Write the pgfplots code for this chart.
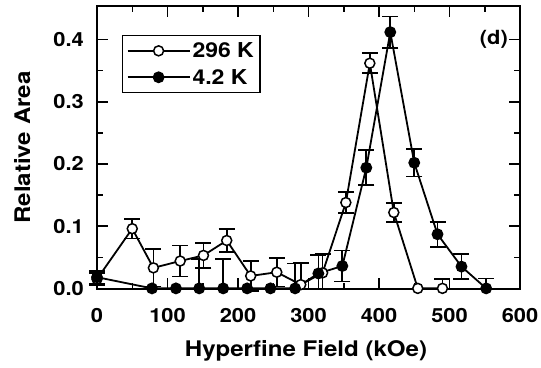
\documentclass[border=0pt]{standalone}
\usepackage{fontspec}
\setmainfont[FakeStretch=1.12]{TeX Gyre Heros}
\usepackage{pgfplots}
\pgfplotsset{compat=1.18}
\usepackage{pgfplotstable}

\pgfplotstableread{
x y ep em
0 0.015 0.010 0.010
50 0.096 0.016 0.016
80 0.033 0.030 0.030
118 0.044 0.025 0.025
151 0.053 0.020 0.020
184 0.077 0.018 0.018
218 0.020 0.024 0.024
255 0.026 0.023 0.023
289 0.006 0.035 0.006
320 0.025 0.030 0.025
353 0.138 0.017 0.017
387 0.362 0.016 0.016
421 0.122 0.015 0.015
455 0.000 0.000 0.000
490 0.000 0.015 0.000
}\warm

\pgfplotstableread{
x y ep em
0 0.018 0.010 0.010
78 0.000 0.000 0.000
112 0.000 0.000 0.000
145 0.000 0.047 0.000
179 0.000 0.047 0.000
213 0.000 0.000 0.000
246 0.000 0.000 0.000
281 0.000 0.040 0.000
314 0.024 0.030 0.024
348 0.036 0.025 0.025
382 0.194 0.028 0.028
416 0.412 0.025 0.025
450 0.202 0.022 0.022
483 0.087 0.020 0.020
517 0.035 0.020 0.020
552 0.000 0.016 0.000
}\cold

\begin{document}
\begin{tikzpicture}
\begin{axis}[
  scale only axis,
  width=423pt, height=283pt,
  xmin=0, xmax=600, ymin=-0.001, ymax=0.454,
  xtick={0,100,...,600},
  ytick={0,0.1,0.2,0.3,0.4},
  minor x tick num=1, minor y tick num=1,
  tick align=inside,
  major tick length=11pt, minor tick length=6pt,
  every tick/.style={black, line width=1.5pt},
  axis line style={line width=1.7pt},
  clip=false,
  /pgf/number format/assume math mode=true,
  yticklabel style={/pgf/number format/fixed, /pgf/number format/fixed zerofill, /pgf/number format/precision=1, anchor=east, inner sep=0pt, xshift=-13pt},
  xticklabel style={anchor=base, inner sep=0pt, yshift=-33pt},
  tick label style={font=\fontsize{19.5}{22}\selectfont\bfseries},
  xlabel={Hyperfine Field (kOe)},
  ylabel={Relative Area},
  every axis x label/.style={at={(axis description cs:0.494,-0.239)}, anchor=base, font=\fontsize{21.5}{24}\selectfont\bfseries},
  every axis y label/.style={at={(axis description cs:-0.177,0.5)}, anchor=center, rotate=90, font=\fontsize{21.5}{24}\selectfont\bfseries},
  legend style={at={(axis description cs:0.059,0.898)}, anchor=north west, draw=black, line width=1.5pt,
    font=\fontsize{20.5}{23}\selectfont\bfseries, inner xsep=4pt, inner ysep=5pt, row sep=6pt,
    legend cell align=left},
  legend image code/.code={\draw[mark repeat=2,mark phase=2,#1] plot coordinates {(0pt,0pt) (31pt,0pt) (62pt,0pt)};},
]
\addplot[black, line width=1.8pt, mark=*, mark size=5pt, mark options={fill=white, line width=1.5pt},
  error bars/.cd, y dir=both, y explicit, error mark options={rotate=90, mark size=8pt, line width=1.7pt},
  error bar style={line width=1.7pt}]
  table[x=x, y=y, y error plus=ep, y error minus=em]{\warm};
\addlegendentry{296 K}
\addplot[black, line width=1.8pt, mark=*, mark size=5pt, mark options={fill=black},
  error bars/.cd, y dir=both, y explicit, error mark options={rotate=90, mark size=8pt, line width=1.7pt},
  error bar style={line width=1.7pt}]
  table[x=x, y=y, y error plus=ep, y error minus=em]{\cold};
\addlegendentry{4.2 K}
\node[anchor=east, inner sep=0pt, font=\fontsize{19.5}{22}\selectfont\bfseries] at (axis cs:600,0.4) [xshift=-12pt] {(d)};
\end{axis}
\pgfresetboundingbox
\path[use as bounding box] ([xshift=-97pt,yshift=-78pt]current axis.south west) rectangle ([xshift=21pt,yshift=6pt]current axis.north east);
\end{tikzpicture}
\end{document}
